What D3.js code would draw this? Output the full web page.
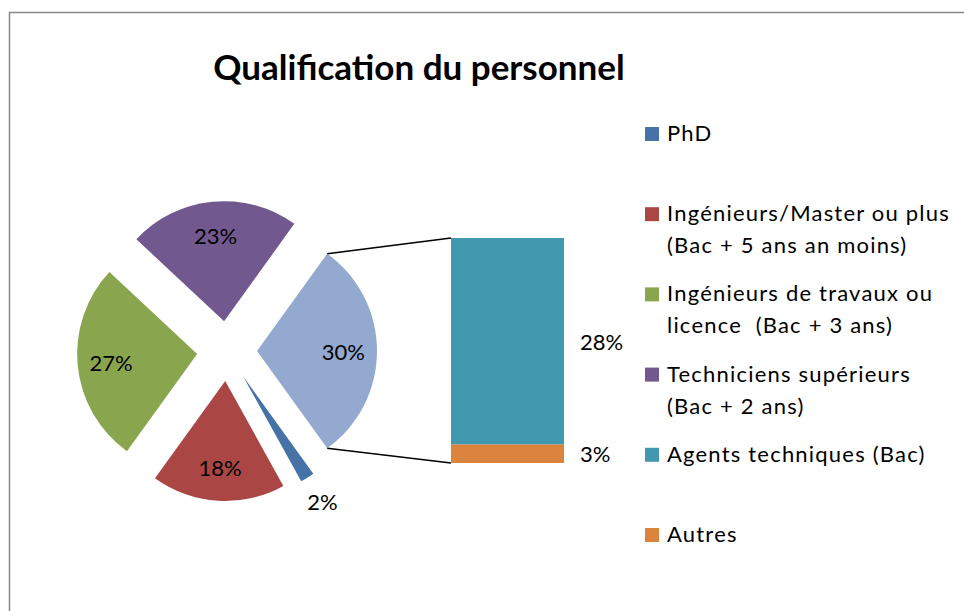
<!DOCTYPE html>
<html>
<head>
<meta charset="utf-8">
<script src="https://cdn.jsdelivr.net/npm/d3@7"></script>
<style>
  body { margin: 0; background: #fff; }
  svg text { font-family: Lato, "Open Sans", sans-serif; fill: #000; }
</style>
</head>
<body>
<svg id="chart" width="964" height="611"></svg>
<script>
// pie categories (the last two are grouped in the bar)
var categories = ["PhD", "Ingénieurs/Master ou plus (Bac + 5 ans an moins)", "Ingénieurs de travaux ou licence  (Bac + 3 ans)", "Techniciens supérieurs (Bac + 2 ans)", "Agents techniques (Bac)", "Autres"];
var legendLines = [["PhD"], ["Ingénieurs/Master ou plus", "(Bac + 5 ans an moins)"], ["Ingénieurs de travaux ou", "licence  (Bac + 3 ans)"], ["Techniciens supérieurs", "(Bac + 2 ans)"], ["Agents techniques (Bac)"], ["Autres"]];
var values = [1.9, 18, 27, 23, 27.6, 2.5];
var colors = ["#4572A7", "#AA4643", "#89A54E", "#71588F", "#4198AF", "#DB843D"];
var otherColor = "#93A9CF";
var pieCount = 4; // first 4 in the pie, rest go to the bar

var svg = d3.select("#chart");

// frame
svg.append("rect")
    .attr("x", 9.5).attr("y", 12.5)
    .attr("width", 1000).attr("height", 700)
    .attr("fill", "none").attr("stroke", "#878787").attr("stroke-width", 1.5);

svg.append("text")
    .attr("x", 419).attr("y", 80)
    .attr("text-anchor", "middle")
    .style("font-size", "35px").style("font-weight", "bold")
    .text("Qualification du personnel");

// pie data: "other" slice first so it sits on the right
var otherValue = d3.sum(values.slice(pieCount));
var pieData = [{name: "other", value: otherValue, color: otherColor}];
for (var i = 0; i < pieCount; i++) {
    pieData.push({name: categories[i], value: values[i], color: colors[i]});
}
var total = d3.sum(pieData, function(d) { return d.value; });
var otherAngle = otherValue / total * 2 * Math.PI;
var start = Math.PI / 2 - otherAngle / 2;

var pie = d3.pie().sort(null).value(function(d) { return d.value; })
    .startAngle(start).endAngle(start + 2 * Math.PI);
var arcs = pie(pieData);

var cx = 227, cy = 351, r = 120, explode = 30;
var arc = d3.arc().innerRadius(0).outerRadius(r);

function offset(d, dist) {
    var a = (d.startAngle + d.endAngle) / 2;
    return [dist * Math.sin(a), -dist * Math.cos(a)];
}

var g = svg.append("g").attr("transform", "translate(" + cx + "," + cy + ")");

g.selectAll("path.slice")
    .data(arcs)
    .enter().append("path")
    .attr("class", "slice")
    .attr("d", arc)
    .attr("fill", function(d) { return d.data.color; })
    .attr("transform", function(d) { return "translate(" + offset(d, explode) + ")"; });

function pct(v) { return Math.round(v / total * 100) + "%"; }

g.selectAll("text.lbl")
    .data(arcs)
    .enter().append("text")
    .attr("class", "lbl")
    .attr("text-anchor", "middle")
    .attr("dominant-baseline", "central")
    .style("font-size", "22px")
    .attr("transform", function(d) {
        var small = d.data.value / total < 0.05;
        var o1 = offset(d, explode);
        var o2 = offset(d, small ? r + 28 : r * 0.72);
        return "translate(" + (o1[0] + o2[0]) + "," + (o1[1] + o2[1]) + ")";
    })
    .text(function(d) { return pct(d.data.value); });

// bar of the grouped slice
var barX = 451, barW = 113, barTop = 238, barBottom = 463;
var y = d3.scaleLinear().domain([0, otherValue]).range([barBottom, barTop]);
var barData = [];
var acc = 0;
for (var j = values.length - 1; j >= pieCount; j--) {
    barData.push({name: categories[j], value: values[j], y0: acc, y1: acc + values[j], color: colors[j]});
    acc += values[j];
}

svg.selectAll("rect.bar")
    .data(barData)
    .enter().append("rect")
    .attr("class", "bar")
    .attr("x", barX).attr("width", barW)
    .attr("y", function(d) { return y(d.y1); })
    .attr("height", function(d) { return y(d.y0) - y(d.y1); })
    .attr("fill", function(d) { return d.color; });

svg.selectAll("text.barlbl")
    .data(barData)
    .enter().append("text")
    .attr("class", "barlbl")
    .attr("x", barX + barW + 16)
    .attr("y", function(d) { return (y(d.y0) + y(d.y1)) / 2; })
    .attr("dominant-baseline", "central")
    .style("font-size", "22px")
    .text(function(d) { return pct(d.value); });

// connector lines from the "other" slice to the bar
var o = arcs[0];
var oo = offset(o, explode);
var p1 = [cx + oo[0] + r * Math.sin(o.startAngle), cy + oo[1] - r * Math.cos(o.startAngle)];
var p2 = [cx + oo[0] + r * Math.sin(o.endAngle), cy + oo[1] - r * Math.cos(o.endAngle)];
svg.append("line")
    .attr("x1", p1[0]).attr("y1", p1[1]).attr("x2", barX).attr("y2", barTop)
    .attr("stroke", "#000").attr("stroke-width", 1.5);
svg.append("line")
    .attr("x1", p2[0]).attr("y1", p2[1]).attr("x2", barX).attr("y2", barBottom)
    .attr("stroke", "#000").attr("stroke-width", 1.5);

// legend
var legendX = 645, legendY = 141, legendStep = 80.2, lineH = 32;
var leg = svg.selectAll("g.leg")
    .data(legendLines)
    .enter().append("g")
    .attr("class", "leg")
    .attr("transform", function(d, i) { return "translate(" + legendX + "," + (legendY + i * legendStep) + ")"; });

leg.append("rect")
    .attr("x", 0).attr("y", -14)
    .attr("width", 14).attr("height", 14)
    .attr("fill", function(d, i) { return colors[i]; });

leg.append("text")
    .attr("x", 22)
    .style("font-size", "22px")
    .style("letter-spacing", "1.2px")
    .selectAll("tspan")
    .data(function(d) { return d; })
    .enter().append("tspan")
    .attr("x", 22)
    .attr("y", function(d, i) { return i * lineH; })
    .style("white-space", "pre")
    .text(function(d) { return d; });
</script>
</body>
</html>
